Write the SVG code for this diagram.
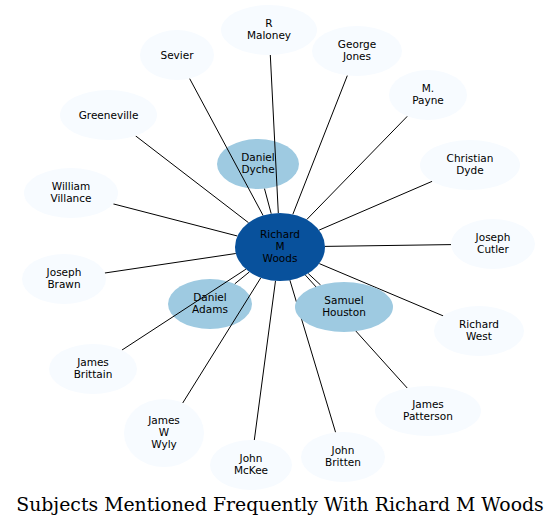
<svg xmlns="http://www.w3.org/2000/svg" width="557" height="525" viewBox="0 0 557 525">
<style>
.n text{font-family:"DejaVu Sans",sans-serif;font-size:10.5px;text-anchor:middle;fill:#000}
.pale ellipse{fill:#f7fbff;stroke:none}
.mid ellipse{fill:#9ecae1;stroke:none}
.core ellipse{fill:#08519c;stroke:none}
#edges line{stroke:#000;stroke-width:1}
.title{font-family:"DejaVu Serif",serif;font-size:18.85px;text-anchor:middle;fill:#000}
</style>
<rect width="557" height="525" fill="#fff"/>
<g id="node-daniel-dyche" class="n mid"><ellipse cx="258" cy="164" rx="41" ry="25"/><text x="258" y="161">Daniel</text><text x="258" y="173">Dyche</text></g>
<g id="node-daniel-adams" class="n mid"><ellipse cx="210" cy="304" rx="42" ry="25"/><text x="210" y="301">Daniel</text><text x="210" y="313">Adams</text></g>
<g id="edges">
<line x1="278.3" y1="213" x2="270.3" y2="55"/>
<line x1="292.8" y1="214.4" x2="347.4" y2="75.4"/>
<line x1="306.7" y1="219.6" x2="407.4" y2="116.2"/>
<line x1="319.1" y1="230.1" x2="432.2" y2="181.3"/>
<line x1="325" y1="246.4" x2="451" y2="244.6"/>
<line x1="319.3" y1="263.6" x2="443.2" y2="315.9"/>
<line x1="305.4" y1="275.1" x2="407.2" y2="388"/>
<line x1="289.9" y1="280.2" x2="335.6" y2="432.4"/>
<line x1="275.5" y1="280.8" x2="254.3" y2="440.1"/>
<line x1="260.8" y1="277.8" x2="182.7" y2="403"/>
<line x1="245.9" y1="269.2" x2="121.9" y2="350.1"/>
<line x1="235.8" y1="253.5" x2="104.8" y2="273"/>
<line x1="237.4" y1="236" x2="113.3" y2="203.9"/>
<line x1="248.5" y1="222.7" x2="135.5" y2="135.8"/>
<line x1="263.1" y1="215.5" x2="189.6" y2="78.5"/>
<line x1="271.2" y1="213.7" x2="264.5" y2="188.7"/>
<line x1="249.4" y1="271.9" x2="234.8" y2="283.8"/>
<line x1="308.2" y1="273.5" x2="320.6" y2="285"/>
</g>
<g id="node-samuel-houston" class="n mid"><ellipse cx="344" cy="307" rx="49" ry="25"/><text x="344" y="304">Samuel</text><text x="344" y="316">Houston</text></g>
<g id="node-richard-m-woods" class="n core"><ellipse cx="280" cy="247" rx="45" ry="34"/><text x="280" y="238">Richard</text><text x="280" y="250">M</text><text x="280" y="262">Woods</text></g>
<g id="node-r-maloney" class="n pale"><ellipse cx="269" cy="30" rx="48" ry="25"/><text x="269" y="27">R</text><text x="269" y="39">Maloney</text></g>
<g id="node-george-jones" class="n pale"><ellipse cx="357" cy="51" rx="45" ry="25"/><text x="357" y="48">George</text><text x="357" y="60">Jones</text></g>
<g id="node-m-payne" class="n pale"><ellipse cx="428" cy="95" rx="39" ry="25"/><text x="428" y="92">M.</text><text x="428" y="104">Payne</text></g>
<g id="node-christian-dyde" class="n pale"><ellipse cx="470" cy="165" rx="50" ry="25"/><text x="470" y="162">Christian</text><text x="470" y="174">Dyde</text></g>
<g id="node-joseph-cutler" class="n pale"><ellipse cx="493" cy="244" rx="42" ry="25"/><text x="493" y="241">Joseph</text><text x="493" y="253">Cutler</text></g>
<g id="node-richard-west" class="n pale"><ellipse cx="479" cy="331" rx="45" ry="25"/><text x="479" y="328">Richard</text><text x="479" y="340">West</text></g>
<g id="node-james-patterson" class="n pale"><ellipse cx="428" cy="411" rx="53" ry="25"/><text x="428" y="408">James</text><text x="428" y="420">Patterson</text></g>
<g id="node-john-britten" class="n pale"><ellipse cx="343" cy="457" rx="42" ry="25"/><text x="343" y="454">John</text><text x="343" y="466">Britten</text></g>
<g id="node-john-mckee" class="n pale"><ellipse cx="251" cy="465" rx="41" ry="25"/><text x="251" y="462">John</text><text x="251" y="474">McKee</text></g>
<g id="node-james-w-wyly" class="n pale"><ellipse cx="164" cy="433" rx="40" ry="34"/><text x="164" y="424">James</text><text x="164" y="436">W</text><text x="164" y="448">Wyly</text></g>
<g id="node-james-brittain" class="n pale"><ellipse cx="93" cy="369" rx="44" ry="25"/><text x="93" y="366">James</text><text x="93" y="378">Brittain</text></g>
<g id="node-joseph-brawn" class="n pale"><ellipse cx="64" cy="279" rx="42" ry="25"/><text x="64" y="276">Joseph</text><text x="64" y="288">Brawn</text></g>
<g id="node-william-villance" class="n pale"><ellipse cx="71" cy="193" rx="47" ry="25"/><text x="71" y="190">William</text><text x="71" y="202">Villance</text></g>
<g id="node-greeneville" class="n pale"><ellipse cx="108.5" cy="115" rx="48.5" ry="25"/><text x="108.5" y="118.5">Greeneville</text></g>
<g id="node-sevier" class="n pale"><ellipse cx="177" cy="55" rx="37" ry="25"/><text x="177" y="58.5">Sevier</text></g>
<text class="title" x="280" y="511">Subjects Mentioned Frequently With Richard M Woods</text>
</svg>
